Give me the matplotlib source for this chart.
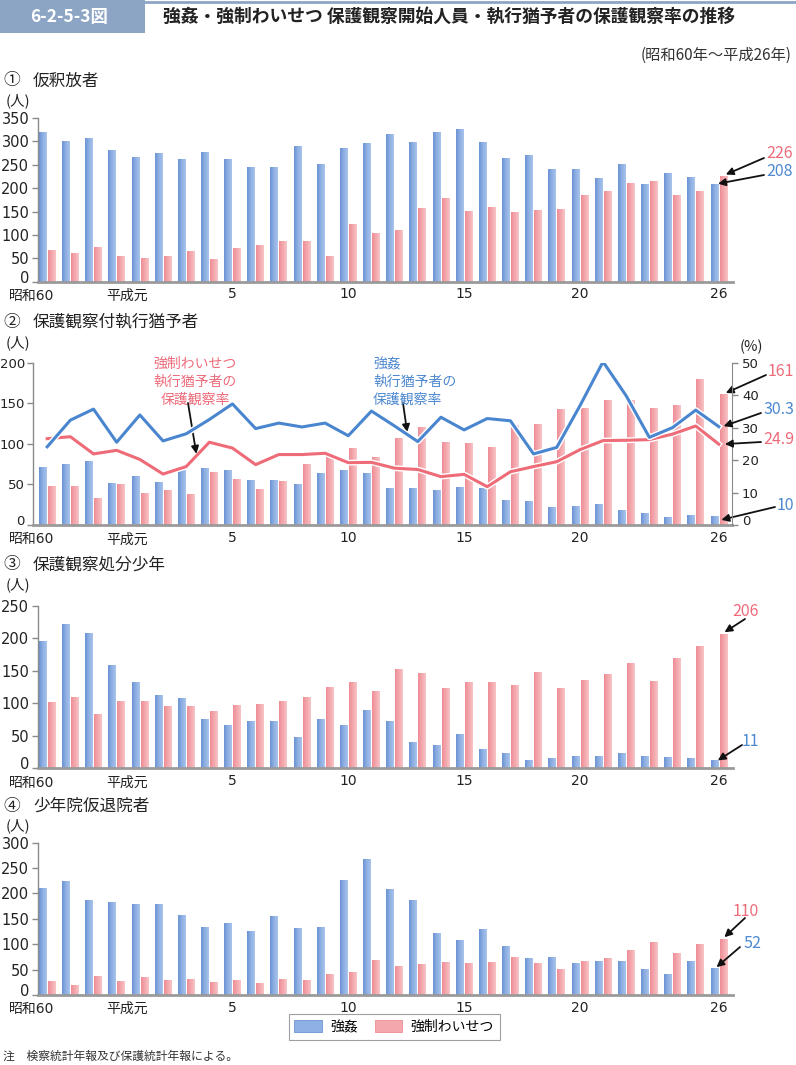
import numpy as np
import matplotlib
matplotlib.use('Agg')
import matplotlib.pyplot as plt
from matplotlib.patches import Patch, FancyBboxPatch, Rectangle
from matplotlib.colors import LinearSegmentedColormap
import matplotlib.patheffects as pe
from matplotlib.lines import Line2D
from matplotlib.transforms import ScaledTranslation

plt.rcParams['font.family'] = ['Noto Sans CJK JP', 'DejaVu Sans']
NUMFONT = ['DejaVu Sans', 'Noto Sans CJK JP']

# ---------------- data ----------------
years = ['昭和60', '61', '62', '63', '平成元'] + [str(i) for i in range(2, 27)]
tick_idx = [8, 13, 18, 23, 29]
tick_labels = ['5', '10', '15', '20', '26']

parole_rape = [320, 301, 307, 281, 266, 275, 261, 277, 262, 244, 245, 289, 251, 285, 296,
               316, 299, 319, 326, 299, 264, 271, 241, 241, 221, 252, 209, 232, 224, 208]
parole_indecent = [67, 60, 73, 54, 51, 55, 65, 48, 72, 78, 86, 86, 55, 124, 104,
                   111, 157, 179, 151, 159, 149, 153, 156, 185, 194, 211, 215, 184, 194, 226]

susp_rape = [71, 75, 78, 51, 60, 52, 68, 70, 67, 55, 55, 50, 63, 67, 64,
             45, 45, 43, 46, 45, 30, 29, 21, 23, 25, 18, 14, 9, 12, 10]
susp_indecent = [47, 48, 33, 50, 39, 43, 38, 65, 56, 44, 54, 74, 83, 94, 83,
                 107, 120, 102, 100, 96, 122, 124, 142, 143, 154, 153, 144, 147, 179, 161]
rate_rape = [24.1, 32.3, 35.7, 25.5, 33.9, 25.9, 28.1, 32.5, 37.3, 29.7, 31.4, 30.2, 31.4, 27.5, 35.1,
             30.5, 25.7, 33.2, 29.3, 32.8, 32.1, 21.9, 23.9, 36.7, 50.3, 39.8, 27.0, 30.0, 35.4, 30.3]
rate_indecent = [26.6, 27.2, 21.9, 23.0, 20.2, 15.7, 18.0, 25.5, 23.7, 18.6, 21.7, 21.7, 22.1, 19.2, 19.3,
                 17.5, 17.1, 14.9, 15.6, 11.8, 16.4, 18.0, 19.5, 23.2, 26.0, 26.1, 26.3, 28.0, 30.5, 24.9]

juv_prob_rape = [195, 220, 207, 158, 131, 112, 107, 74, 66, 71, 71, 47, 74, 65, 89,
                 71, 39, 34, 51, 29, 23, 12, 15, 18, 17, 23, 18, 16, 15, 11]
juv_prob_indecent = [101, 109, 83, 102, 102, 94, 95, 87, 96, 97, 103, 109, 124, 132, 117,
                     152, 146, 122, 132, 131, 127, 147, 122, 135, 144, 160, 133, 168, 187, 206]

juv_parole_rape = [210, 223, 186, 182, 179, 179, 156, 132, 140, 126, 154, 131, 133, 226, 266,
                   208, 187, 121, 108, 129, 95, 72, 73, 62, 66, 66, 50, 41, 66, 52]
juv_parole_indecent = [27, 19, 36, 27, 35, 28, 30, 24, 29, 23, 31, 28, 40, 44, 67,
                       57, 61, 65, 63, 65, 74, 62, 51, 66, 71, 88, 103, 82, 100, 110]

series_names = ['強姦', '強制わいせつ']

# ---------------- style ----------------
W, H = 796, 1065
BLUE_TXT = '#4d88d0'
PINK_TXT = '#ee6b7a'
BLUE_LINE = '#4a86cf'
PINK_LINE = '#ee6b78'
cm_blue = LinearSegmentedColormap.from_list('b', ['#6b93d4', '#8fb0e3', '#a9c4ec'])
cm_pink = LinearSegmentedColormap.from_list('p', ['#ee8d96', '#f4a8ad', '#f8c3c6'])
AX_GRAY = '#8a8a8a'
TXT = '#222222'

fig = plt.figure(figsize=(W / 100, H / 100), dpi=100)

G0, STEP = 47.2, 23.16   # pixel centre of first group, pixel step between groups
x = np.arange(len(years))
BW = 0.33
OFF = 0.195


def add_ax(L, R, T, B):
    ax = fig.add_axes([L / W, 1 - B / H, (R - L) / W, (B - T) / H])
    ax.set_xlim((L - G0) / STEP, (R - G0) / STEP)
    return ax


def ftext(px, py, s, **kw):
    return fig.text(px / W, 1 - py / H, s, **kw)


def grad_bars(ax, xs, vals, cmap):
    bars = ax.bar(xs, vals, width=BW, color='none', edgecolor='none', zorder=2)
    grad = np.linspace(0, 1, 32).reshape(1, -1)
    for b in bars:
        x0, w, h = b.get_x(), b.get_width(), b.get_height()
        ax.imshow(grad, extent=[x0, x0 + w, 0, h], cmap=cmap, aspect='auto',
                  interpolation='bilinear', zorder=2)
    return bars


def fmt_yticks(ax, size):
    for lab in ax.get_yticklabels():
        lab.set_fontfamily(NUMFONT)
        lab.set_fontsize(size)
    labs = ax.get_yticklabels()
    if labs:
        labs[0].set_transform(labs[0].get_transform() +
                              ScaledTranslation(0, 5 / 100, fig.dpi_scale_trans))


def style_ax(ax, ymax, ystep, ysize=10.5):
    ax.set_ylim(0, ymax)
    ax.set_yticks(np.arange(0, ymax + 1, ystep))
    for s in ['top', 'right']:
        ax.spines[s].set_visible(False)
    ax.spines['left'].set_color(AX_GRAY)
    ax.spines['left'].set_linewidth(1.0)
    ax.spines['bottom'].set_color('#9a9a9a')
    ax.spines['bottom'].set_linewidth(2.0)
    ax.tick_params(axis='y', direction='out', length=4, width=1, color=AX_GRAY,
                   pad=2, labelcolor=TXT)
    fmt_yticks(ax, ysize)
    ax.set_xticks(tick_idx)
    ax.set_xticklabels(tick_labels, fontfamily=NUMFONT, fontsize=10)
    ax.tick_params(axis='x', length=0, pad=4, labelcolor=TXT)
    trans = ax.get_xaxis_transform()
    ax.text((32 - G0) / STEP, -0.045, years[0], transform=trans, ha='center', va='top',
            fontsize=10, color=TXT, fontfamily=NUMFONT)
    ax.text((127 - G0) / STEP, -0.045, years[4], transform=trans, ha='center', va='top',
            fontsize=10, color=TXT)


def panel(L, R, T, B, blue, pink, ymax, ystep, ysize=10.5):
    ax = add_ax(L, R, T, B)
    xl = ax.get_xlim()
    grad_bars(ax, x - OFF, blue, cm_blue)
    grad_bars(ax, x + OFF, pink, cm_pink)
    ax.set_xlim(xl)
    style_ax(ax, ymax, ystep, ysize)
    return ax


def arrow(ax, xy, px, py):
    ax.annotate('', xy=xy, xycoords='data',
                xytext=(px, H - py), textcoords='figure pixels',
                arrowprops=dict(arrowstyle='-|>', color='#111111', lw=1.3,
                                mutation_scale=11, shrinkA=0, shrinkB=1),
                annotation_clip=False)


# ---------------- header ----------------
fig.add_artist(Rectangle((0, 1 - 33 / H), 145 / W, 33 / H, transform=fig.transFigure,
                         facecolor='#8da5c4', edgecolor='none'))
fig.add_artist(Line2D([145 / W, 1], [1 - 2 / H, 1 - 2 / H], transform=fig.transFigure,
                      color='#8da5c4', lw=2))
ftext(30, 17, '6-2-5-3図', ha='left', va='center', color='white', fontsize=12.5,
      fontweight='bold')
ftext(163, 17, '強姦・強制わいせつ 保護観察開始人員・執行猶予者の保護観察率の推移',
      ha='left', va='center', fontsize=12.8, fontweight='bold', color=TXT)
ftext(792, 55, '(昭和60年～平成26年)', ha='right', va='center', fontsize=11, color='#333333')

# ---------------- panel 1 ----------------
ftext(3, 81, '①', ha='left', va='center', fontsize=12, color=TXT)
ftext(33, 81, '仮釈放者', ha='left', va='center', fontsize=12, color=TXT)
ftext(6, 101, '(人)', ha='left', va='center', fontsize=10.5, color=TXT)
ax1 = panel(37.7, 733, 118, 281.7, parole_rape, parole_indecent, 350, 50)
ftext(766, 153, '226', ha='left', va='center', fontsize=11.5, color=PINK_TXT)
ftext(766, 172, '208', ha='left', va='center', fontsize=11.5, color=BLUE_TXT)
arrow(ax1, (29 + OFF + 0.05, parole_indecent[-1] + 2), 764, 158)
arrow(ax1, (29 - OFF + 0.1, parole_rape[-1] + 1), 764, 175)

# ---------------- panel 2 ----------------
ftext(3, 322, '②', ha='left', va='center', fontsize=12, color=TXT)
ftext(33, 322, '保護観察付執行猶予者', ha='left', va='center', fontsize=12, color=TXT)
ftext(6, 343, '(人)', ha='left', va='center', fontsize=10.5, color=TXT)
ftext(751, 347, '(%)', ha='center', va='center', fontsize=10.5, color=TXT)
ax2 = panel(33.3, 732.3, 362.7, 525, susp_rape, susp_indecent, 200, 50, ysize=9.5)
ax2r = ax2.twinx()
ax2r.set_xlim(ax2.get_xlim())
ax2r.set_ylim(0, 50)
ax2r.set_yticks(np.arange(0, 51, 10))
for s in ['top', 'left', 'bottom']:
    ax2r.spines[s].set_visible(False)
ax2r.spines['right'].set_color(AX_GRAY)
ax2r.tick_params(axis='y', direction='out', length=4, width=1, color=AX_GRAY,
                 pad=3, labelcolor=TXT)
fmt_yticks(ax2r, 9.5)
halo = [pe.Stroke(linewidth=4.2, foreground='white'), pe.Normal()]
ax2r.plot(x, rate_indecent, color=PINK_LINE, lw=2.2, path_effects=halo, zorder=3)
ax2r.plot(x, rate_rape, color=BLUE_LINE, lw=2.2, path_effects=halo, zorder=4)

ftext(195, 357, '強制わいせつ\n執行猶予者の\n保護観察率', ha='center', va='top',
      fontsize=10, color=PINK_TXT, linespacing=1.35)
ftext(373, 357, '強姦\n執行猶予者の\n保護観察率', ha='left', va='top',
      fontsize=10, color=BLUE_TXT, linespacing=1.35)
arrow(ax2r, (6.45, 21.5), 188, 403)
arrow(ax2r, (15.55, 28.2), 403, 403)

ftext(768, 372, '161', ha='left', va='center', fontsize=11.5, color=PINK_TXT)
ftext(763, 410, '30.3', ha='left', va='center', fontsize=11.5, color=BLUE_TXT)
ftext(763, 440, '24.9', ha='left', va='center', fontsize=11.5, color=PINK_TXT)
ftext(777, 505, '10', ha='left', va='center', fontsize=11.5, color=BLUE_TXT)
arrow(ax2, (29 + OFF + 0.05, susp_indecent[-1] + 1), 766, 375)
arrow(ax2r, (29.15, rate_rape[-1]), 761, 413)
arrow(ax2r, (29.2, rate_indecent[-1]), 761, 442)
arrow(ax2, (29.05, 6), 775, 507)

# ---------------- panel 3 ----------------
ftext(3, 565, '③', ha='left', va='center', fontsize=12, color=TXT)
ftext(33, 565, '保護観察処分少年', ha='left', va='center', fontsize=12, color=TXT)
ftext(6, 585, '(人)', ha='left', va='center', fontsize=10.5, color=TXT)
ax3 = panel(37.7, 733, 605.7, 768.3, juv_prob_rape, juv_prob_indecent, 250, 50)
ftext(746, 612, '206', ha='center', va='center', fontsize=11.5, color=PINK_TXT)
ftext(750, 742, '11', ha='center', va='center', fontsize=11.5, color=BLUE_TXT)
arrow(ax3, (29 + OFF, juv_prob_indecent[-1] + 2), 745, 619)
arrow(ax3, (29 - OFF + 0.1, juv_prob_rape[-1]), 742, 745)

# ---------------- panel 4 ----------------
ftext(3, 806, '④', ha='left', va='center', fontsize=12, color=TXT)
ftext(33, 806, '少年院仮退院者', ha='left', va='center', fontsize=12, color=TXT)
ftext(6, 826, '(人)', ha='left', va='center', fontsize=10.5, color=TXT)
ax4 = panel(37.7, 733, 842.7, 995, juv_parole_rape, juv_parole_indecent, 300, 50)
ftext(746, 911, '110', ha='center', va='center', fontsize=11.5, color=PINK_TXT)
ftext(752, 943, '52', ha='center', va='center', fontsize=11.5, color=BLUE_TXT)
arrow(ax4, (29 + OFF, juv_parole_indecent[-1] + 2), 745, 918)
arrow(ax4, (29 - OFF + 0.05, juv_parole_rape[-1] + 1), 740, 947)

# ---------------- legend ----------------
handles = [Patch(facecolor='#8fb0e3', edgecolor='#6b93d4', lw=0.6),
           Patch(facecolor='#f4a8ad', edgecolor='#ee8d96', lw=0.6)]
leg = fig.legend(handles, series_names, loc='center', bbox_to_anchor=(394 / W, 1 - 1027 / H),
                 ncol=2, fontsize=10, frameon=True, fancybox=False, edgecolor='#888888',
                 handlelength=2.0, handleheight=1.0, columnspacing=1.2, handletextpad=0.6,
                 borderpad=0.4)
leg.get_frame().set_linewidth(0.8)

ftext(3, 1056, '注　検察統計年報及び保護統計年報による。', ha='left', va='center',
      fontsize=8.5, color='#333333')

fig.savefig('out.png', dpi=100)
